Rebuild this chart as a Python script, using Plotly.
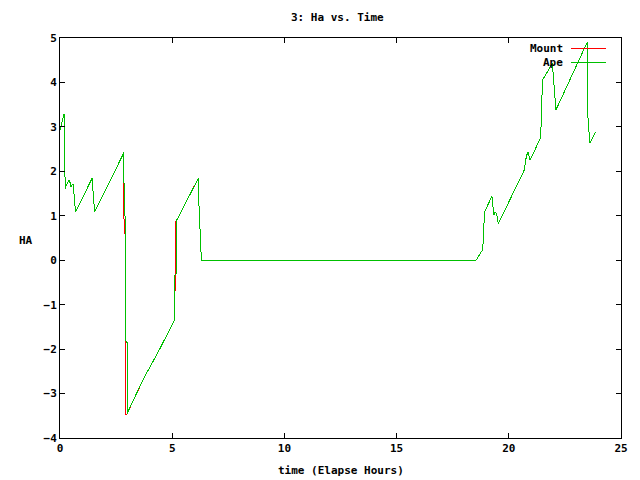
import plotly.graph_objects as go

# Ape series (elapsed hours, HA)
ape_t = [0.0, 0.02, 0.10, 0.15, 0.19, 0.19, 0.24, 0.25, 0.40, 0.46, 0.49, 0.55, 0.59, 0.62, 0.64, 0.69,
         1.43, 1.49, 1.54, 2.85, 2.85, 2.90, 2.91, 2.99, 2.99, 3.21, 3.74, 4.39, 4.98, 5.10,
         5.10, 5.18, 5.18, 5.22, 5.98, 6.16, 6.18, 6.25, 6.27, 6.30, 6.35,
         18.54, 18.84, 18.86, 18.92, 19.25, 19.33, 19.40, 19.47, 19.53, 20.69, 20.78, 20.85, 20.95,
         21.42, 21.45, 21.50, 21.94, 22.00, 22.10, 23.49, 23.53, 23.61, 23.86]
ape_ha = [2.93, 2.97, 3.12, 3.23, 3.30, 2.44, 1.61, 1.65, 1.80, 1.73, 1.65, 1.71, 1.71, 1.54, 1.24, 1.09,
          1.84, 1.28, 1.09, 2.42, 1.80, 0.95, -1.80, -1.85, -3.45, -3.21, -2.65, -2.05, -1.46, -1.35,
          -0.35, -0.30, 0.88, 0.92, 1.65, 1.84, 1.39, 0.49, 0.04, 0.0, 0.0,
          0.0, 0.24, 0.42, 1.09, 1.44, 1.01, 1.09, 1.01, 0.82, 2.03, 2.33, 2.44, 2.25,
          2.76, 3.20, 4.05, 4.43, 4.05, 3.38, 4.90, 3.19, 2.63, 2.89]

# Mount series (elapsed hours, HA)
mount_t = [0.0, 0.02, 0.10, 0.15, 0.19, 0.19, 0.24, 0.25, 0.40, 0.46, 0.49, 0.55, 0.59, 0.62, 0.64, 0.69,
           1.43, 1.49, 1.54, 2.85, 2.85, 2.91, 2.91, 2.935, 2.935, 2.99, 3.21, 3.74, 4.39, 4.98, 5.10,
           5.14, 5.14, 5.16, 5.16, 5.22, 5.98, 6.16, 6.18, 6.25, 6.27, 6.30, 6.35,
           18.54, 18.84, 18.86, 18.92, 19.25, 19.33, 19.40, 19.47, 19.53, 20.69, 20.78, 20.85, 20.95,
           21.42, 21.45, 21.50, 21.94, 22.00, 22.10, 23.49, 23.53, 23.61, 23.86]
mount_ha = [2.93, 2.97, 3.12, 3.23, 3.30, 2.44, 1.61, 1.65, 1.80, 1.73, 1.65, 1.71, 1.71, 1.54, 1.24, 1.09,
            1.84, 1.28, 1.09, 2.42, 0.95, 0.50, -2.00, -2.02, -3.49, -3.45, -3.21, -2.65, -2.05, -1.46, -1.35,
            -0.33, -0.25, 0.72, 0.86, 0.92, 1.65, 1.84, 1.39, 0.49, 0.04, 0.0, 0.0,
            0.0, 0.24, 0.42, 1.09, 1.44, 1.01, 1.09, 1.01, 0.82, 2.03, 2.33, 2.44, 2.25,
            2.76, 3.20, 4.05, 4.43, 4.05, 3.38, 4.90, 3.19, 2.63, 2.89]

x_ticks = [0, 5, 10, 15, 20, 25]
y_ticks = [-4, -3, -2, -1, 0, 1, 2, 3, 4, 5]

RED = "#ff0000"
GREEN = "#00c000"
FONT = dict(family="DejaVu Sans Mono", size=11, color="black", weight="bold")

fig = go.Figure()
fig.add_trace(go.Scatter(x=mount_t, y=mount_ha, mode="lines", name="Mount",
                         line=dict(color=RED, width=1), showlegend=False))
fig.add_trace(go.Scatter(x=ape_t, y=ape_ha, mode="lines", name="Ape",
                         line=dict(color=GREEN, width=1), showlegend=False))

axis_common = dict(showgrid=False, zeroline=False, showline=True, linecolor="black", linewidth=1,
                   mirror="allticks", ticks="inside", ticklen=5, tickcolor="black", tickwidth=1,
                   tickfont=FONT)

# page body has an 8px margin, so the figure is sized 632x472 to fill the 640x480 window
fig.update_layout(
    width=632, height=472,
    margin=dict(l=52, r=16, t=30, b=42),
    paper_bgcolor="white", plot_bgcolor="white",
    xaxis=dict(range=[0, 25], tickvals=x_ticks, **axis_common),
    yaxis=dict(range=[-4, 5], tickvals=y_ticks, **axis_common),
    showlegend=False,
)

# Title and axis labels
fig.add_annotation(text="3: Ha vs. Time", xref="paper", yref="paper", x=0.4947, y=1.05,
                   showarrow=False, font=FONT, xanchor="center", yanchor="middle")
fig.add_annotation(text="time (Elapse Hours)", xref="paper", yref="paper", x=0.5, y=-0.08,
                   showarrow=False, font=FONT, xanchor="center", yanchor="middle")
fig.add_annotation(text="HA", xref="paper", yref="paper", x=-0.06, y=0.495,
                   showarrow=False, font=FONT, xanchor="center", yanchor="middle")

# gnuplot-style key (top right)
for label, color, ypos in [("Mount", RED, 0.975), ("Ape", GREEN, 0.94)]:
    fig.add_annotation(text=label, xref="paper", yref="paper", x=0.9007, y=ypos,
                       showarrow=False, font=FONT, xanchor="right", yanchor="middle")
    fig.add_shape(type="line", xref="paper", yref="paper", x0=0.911, x1=0.973, y0=ypos, y1=ypos,
                  line=dict(color=color, width=1))

# crisp (non-antialiased) lines, like the gnuplot PNG terminal
crisp_js = ("document.querySelectorAll('.scatterlayer path.js-line, .shapelayer path')"
            ".forEach(function(p){p.style.shapeRendering='crispEdges';});")

fig.write_html("out.html", post_script=crisp_js)
